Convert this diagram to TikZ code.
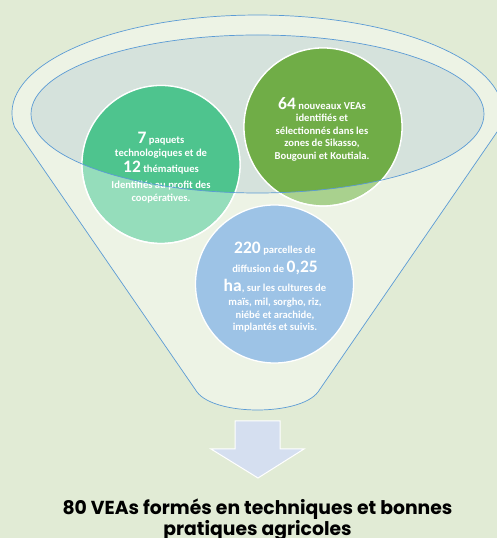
\documentclass[tikz,border=0pt]{standalone}
\usepackage{fontspec}
\setmainfont{Carlito}
\newfontfamily\titlefont{Poppins}
\newcommand{\bnum}[1]{{\fontsize{17.5}{17.5}\selectfont #1}}
\definecolor{bgc}{HTML}{E1EBD5}
\definecolor{funnelc}{HTML}{EDF3E5}
\definecolor{innerc}{HTML}{D5E2DC}
\definecolor{outc}{HTML}{5B9BD5}
\definecolor{tealD}{HTML}{4EC48E}
\definecolor{tealL}{HTML}{95DDBB}
\definecolor{greenD}{HTML}{70AD47}
\definecolor{greenL}{HTML}{A9D18E}
\definecolor{blueC}{HTML}{9DC3E6}
\definecolor{arrowc}{HTML}{D5DFF0}
\tikzset{
  bub/.style={circle, minimum size=158pt, inner sep=0pt, draw=white, line width=1.3pt},
  btext/.style={align=center, text=white, font=\fontsize{10.6}{12.5}\selectfont\bfseries},
  outline/.style={draw=outc, line width=0.7pt}
}
\begin{document}
\begin{tikzpicture}[x=1pt,y=1pt]
\useasboundingbox (0,0) rectangle (497,538);
\fill[bgc] (0,0) rectangle (497,538);
% funnel body
\coordinate (fl) at (14.5,411);
\coordinate (bl) at (197,146);
\coordinate (br) at (318,146);
\path[outline, fill=funnelc] (fl) arc[start angle=188.2, end angle=-8.2, x radius=245.5, y radius=98] -- (br) .. controls (300,122) and (215,122) .. (bl) -- cycle;
% inner ellipse
\coordinate (ec) at (257.5,424);
\fill[innerc] (ec) ellipse [x radius=226.5, y radius=79];
% bubbles
\node[bub, fill=tealL] (c1) at (161,373.5) {};
\node[bub, fill=greenL] (c2) at (323,411) {};
\node[bub, fill=blueC] (c3) at (274.5,254) {};
\begin{scope}
  \clip (ec) ellipse [x radius=226.5, y radius=79];
  \fill[tealD] (c1.center) circle [radius=79];
  \fill[greenD] (c2.center) circle [radius=79];
\end{scope}
\draw[white, line width=1.3pt] (c1.center) circle [radius=79];
\draw[white, line width=1.3pt] (c2.center) circle [radius=79];
% texts
\node[btext] (t1) at (161,370.5) {\bnum{7} paquets\\[1pt]technologiques et de\\[1pt]\bnum{12} thématiques\\[3.5pt]Identifiés au profit des\\[0.5pt]coopératives.};
\node[btext] (t2) at (322,409) {\bnum{64} nouveaux VEAs\\identifiés et\\sélectionnés dans les\\zones de Sikasso,\\Bougouni et Koutiala.};
\node[btext] (t3) at (275,251) {\bnum{220} parcelles de\\[5pt]diffusion de \bnum{0,25}\\[3pt]\bnum{ha}, sur les cultures de\\[2pt]maïs, mil, sorgho, riz,\\niébé et arachide,\\implantés et suivis.};
% inner ellipse outline on top
\draw[outline] (ec) ellipse [x radius=226.5, y radius=79];
% arrow
\draw[white, fill=arrowc, line width=1pt, line join=miter] (235,117) -- (280,117) -- (280,89) -- (304,89) -- (258,60) -- (211,89) -- (235,89) -- cycle;
% title
\node[align=center, font=\titlefont\bfseries\fontsize{18.8}{20}\selectfont] (title) at (257.5,18.5) {80 VEAs formés en techniques et bonnes\\pratiques agricoles};
\end{tikzpicture}
\end{document}
